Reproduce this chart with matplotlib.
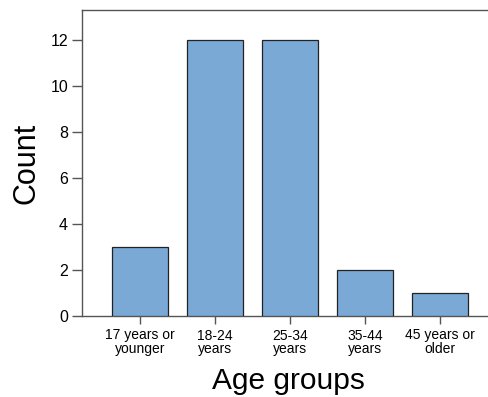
import matplotlib
matplotlib.use("Agg")
import matplotlib.pyplot as plt

categories = ["17 years or\nyounger", "18-24\nyears", "25-34\nyears", "35-44\nyears", "45 years or\nolder"]
counts = [3, 12, 12, 2, 1]
yticks = [0, 2, 4, 6, 8, 10, 12]

plt.rcParams['font.family'] = ['Liberation Sans', 'DejaVu Sans']

fig = plt.figure(figsize=(4.88, 3.97), dpi=100)
ax = fig.add_axes([82/488, 81/397, 1 - 82/488, (316-10)/397])
x = list(range(len(categories)))
ax.bar(x, counts, width=0.75, color="#7aa9d6", edgecolor="#222222", linewidth=0.9, zorder=3)
ax.set_xlim(-0.773, 4.64)
ax.set_ylim(0, 13.3)
ax.set_yticks(yticks)
ax.set_xticks(x)
ax.set_xticklabels(categories, fontsize=10, linespacing=0.95)
ax.tick_params(axis='y', labelsize=11.5, length=7, width=1, color="#555555", pad=3)
ax.tick_params(axis='x', length=6, width=1, color="#555555", pad=3)
for s in ['left', 'top', 'bottom']:
    ax.spines[s].set_color("#555555")
    ax.spines[s].set_linewidth(1)
ax.spines['right'].set_visible(False)
ax.set_ylabel("Count", fontsize=22)
ax.yaxis.set_label_coords(-(82-26)/406, 0.5)
ax.set_xlabel("Age groups", fontsize=21.5)
ax.xaxis.set_label_coords((288-82)/406, -(381-316)/306)
ax.xaxis.label.set_va('center')
ax.yaxis.label.set_va('center')
fig.savefig("out.png", dpi=100)
